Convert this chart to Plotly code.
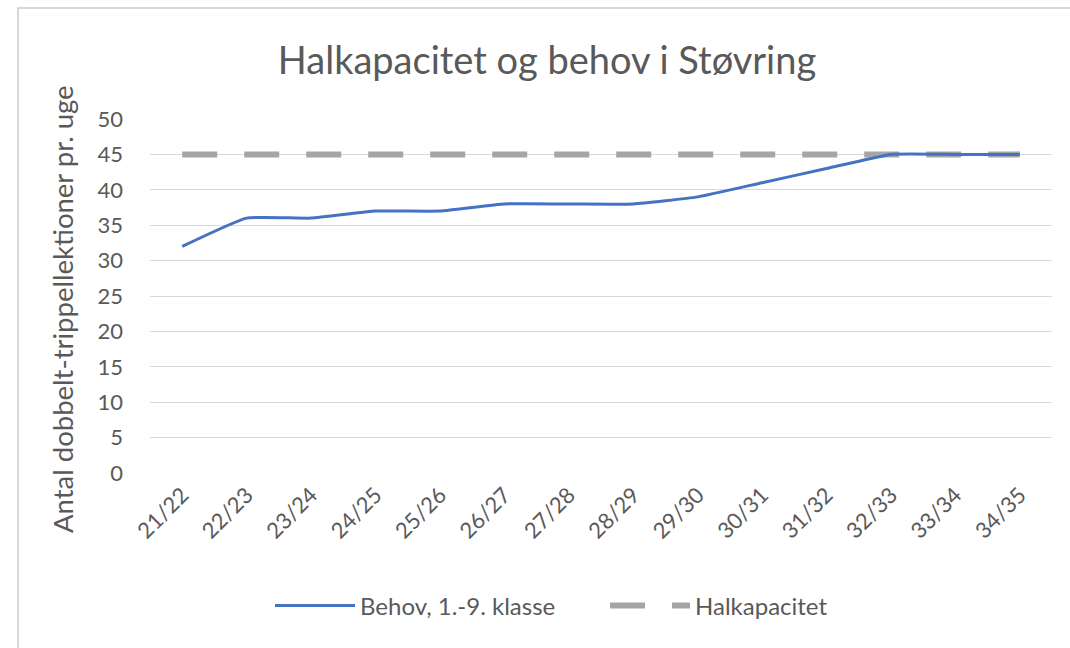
import plotly.graph_objects as go

categories = ["21/22", "22/23", "23/24", "24/25", "25/26", "26/27", "27/28",
              "28/29", "29/30", "30/31", "31/32", "32/33", "33/34", "34/35"]
behov = [32, 36, 36, 37, 37, 38, 38, 38, 39, 41, 43, 45, 45, 45]
halkapacitet = [45] * len(categories)
y_title = "Antal dobbelt-trippellektioner pr. uge"
chart_title = "Halkapacitet og behov i Støvring"

fig = go.Figure()
fig.add_trace(go.Scatter(
    x=categories, y=halkapacitet, mode="lines", name="Halkapacitet",
    line=dict(color="#A5A5A5", width=6, dash="35px,27px"),
))
fig.add_trace(go.Scatter(
    x=categories, y=behov, mode="lines", name="Behov, 1.-9. klasse",
    line=dict(color="#4472C4", width=3, shape="spline", smoothing=0.4),
))

font_family = "Lato, Open Sans, sans-serif"
T, B, L, R = 119, 175, 150, 18
ph = 648 - T - B
pw = 1070 - L - R


def px_x(px):
    return (px - L) / pw


def px_y(py):
    return (648 - B - py) / ph


fig.update_layout(
    width=1070, height=648,
    margin=dict(l=L, r=R, t=T, b=B, autoexpand=False),
    paper_bgcolor="white", plot_bgcolor="white",
    font=dict(family=font_family, color="#595959", size=22),
    title=dict(text=chart_title, x=547 / 1070, xanchor="center",
               y=1 - 61 / 648, yanchor="middle",
               font=dict(size=38, color="#595959", family=font_family)),
    showlegend=True,
    legend=dict(orientation="h", x=px_x(270), xanchor="left",
                y=px_y(606), yanchor="middle",
                traceorder="reversed", font=dict(size=24, color="#595959"),
                itemwidth=80, entrywidth=240, bgcolor="rgba(0,0,0,0)"),
    xaxis=dict(type="category", range=[-0.5, len(categories) - 0.5],
               tickangle=-45, showgrid=False, showline=False,
               ticks="", ticklabelstandoff=4, automargin=False,
               tickfont=dict(size=22, color="#595959")),
    yaxis=dict(range=[0, 50], dtick=5, showgrid=True, gridcolor="#D9D9D9", gridwidth=1,
               zeroline=False, showline=False, ticks="", automargin=False,
               ticklabelstandoff=26,
               tickfont=dict(size=22, color="#595959")),
    annotations=[dict(text=y_title, textangle=-90, xref="paper", yref="paper",
                      x=px_x(62), y=px_y(309), xanchor="center", yanchor="middle",
                      showarrow=False, font=dict(size=27.5, color="#595959"))],
    shapes=[dict(type="rect", xref="paper", yref="paper",
                 x0=px_x(18), x1=px_x(1075),
                 y0=px_y(655), y1=px_y(8),
                 line=dict(color="#D9D9D9", width=2), fillcolor="rgba(0,0,0,0)",
                 layer="below")],
)

fig.write_html("out.html", config={"displayModeBar": False},
               post_script="document.body.style.margin='0';")
